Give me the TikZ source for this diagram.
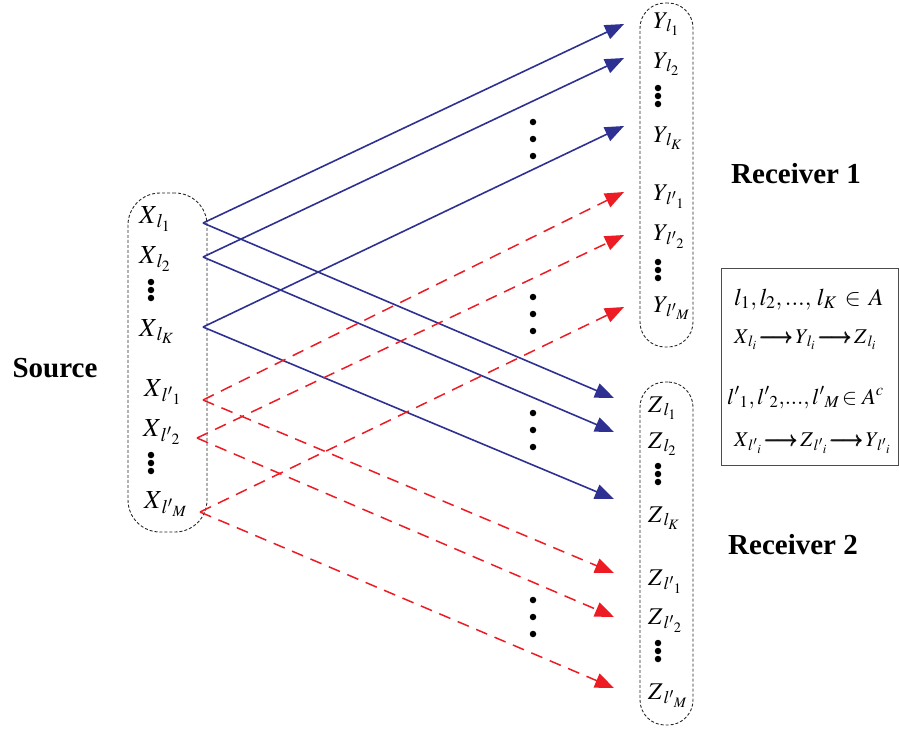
\documentclass[tikz,border=0pt]{standalone}
\usepackage{mathptmx}
\usepackage{amsmath}
\usepackage{fontspec}
\setmainfont{Liberation Serif}
\usetikzlibrary{arrows.meta}
\definecolor{navyline}{RGB}{46,49,146}
\definecolor{redline}{RGB}{237,28,36}
\newcommand{\barr}{\mathrel{\pmb{\longrightarrow}}}
\begin{document}
\begin{tikzpicture}[x=1pt,y=-1pt,
  lab/.style={inner sep=0pt,anchor=base west,font=\fontsize{24}{26}\selectfont},
  xlab/.style={inner sep=0pt,anchor=base west,font=\fontsize{26}{28}\selectfont},
  title/.style={inner sep=0pt,font=\fontsize{29}{31}\selectfont\bfseries},
  grp/.style={draw=black!85,line width=0.9pt,dash pattern=on 3pt off 2pt,inner sep=0pt},
  dotm/.style={circle,fill=black,inner sep=0pt,minimum size=6.5pt},
  barrow/.style={draw=navyline,line width=1.6pt,-{Triangle[length=19pt,width=15pt]}},
  rarrow/.style={draw=redline,line width=1.5pt,dash pattern=on 12pt off 8pt,-{Triangle[length=19pt,width=15pt]}},
  legendbox/.style={draw=black!70,line width=0.9pt,inner sep=0pt},
  legbig/.style={inner sep=0pt,anchor=base west,font=\fontsize{24}{26}\selectfont},
  legmid/.style={inner sep=0pt,anchor=base west,font=\fontsize{22.5}{24}\selectfont},
  legsmall/.style={inner sep=0pt,anchor=base west,font=\fontsize{21}{23}\selectfont}
]
\useasboundingbox (0,0) rectangle (899,729);

% group boxes
\node[grp,rounded corners=32pt,minimum width=79pt,minimum height=339pt] (srcbox) at (167.5,362.5) {};
\node[grp,rounded corners=25pt,minimum width=53pt,minimum height=344pt] (ybox) at (666.5,175) {};
\node[grp,rounded corners=25pt,minimum width=53pt,minimum height=343pt] (zbox) at (666.5,553.5) {};

% titles
\node[title] (source) at (55,368) {Source};
\node[title] (rec1) at (796,174) {Receiver 1};
\node[title] (rec2) at (793,545) {Receiver 2};

% X labels
\node[xlab] (x1) at (139,223) {$X_{\,l_{1}}$};
\node[xlab] (x2) at (139,263) {$X_{\,l_{2}}$};
\node[xlab] (xK) at (139,336) {$X_{\,l_{K}}$};
\node[xlab] (xp1) at (144,396) {$X_{\,{l'}_{1}}$};
\node[xlab] (xp2) at (143,436) {$X_{\,{l'}_{2}}$};
\node[xlab] (xpM) at (144,508) {$X_{\,{l'}_{M}}$};
\node[dotm] (xd1) at (151,282) {};
\node[dotm] (xd2) at (151,290) {};
\node[dotm] (xd3) at (151,298) {};
\node[dotm] (xd4) at (151,455) {};
\node[dotm] (xd5) at (151,463) {};
\node[dotm] (xd6) at (151,471) {};

% Y labels
\node[lab] (y1) at (653,28) {$Y_{\,l_{1}}$};
\node[lab] (y2) at (653,68) {$Y_{\,l_{2}}$};
\node[lab] (yK) at (653,142) {$Y_{\,l_{K}}$};
\node[lab] (yp1) at (653,200) {$Y_{\,{l'}_{1}}$};
\node[lab] (yp2) at (653,240) {$Y_{\,{l'}_{2}}$};
\node[lab] (ypM) at (653,312) {$Y_{\,{l'}_{M}}$};
\node[dotm] (yd1) at (658,88) {};
\node[dotm] (yd2) at (658,96) {};
\node[dotm] (yd3) at (658,104) {};
\node[dotm] (yd4) at (658,262) {};
\node[dotm] (yd5) at (658,270) {};
\node[dotm] (yd6) at (658,278) {};

% Z labels
\node[lab] (z1) at (648,412) {$Z_{\,l_{1}}$};
\node[lab] (z2) at (648,448) {$Z_{\,l_{2}}$};
\node[lab] (zK) at (648,522) {$Z_{\,l_{K}}$};
\node[lab] (zp1) at (648,585) {$Z_{\,{l'}_{1}}$};
\node[lab] (zp2) at (648,624) {$Z_{\,{l'}_{2}}$};
\node[lab] (zpM) at (648,699) {$Z_{\,{l'}_{M}}$};
\node[dotm] (zd1) at (658,643) {};
\node[dotm] (zd2) at (658,651) {};
\node[dotm] (zd3) at (658,659) {};
\node[dotm] (zd4) at (658,466) {};
\node[dotm] (zd5) at (658,474) {};
\node[dotm] (zd6) at (658,482) {};

% middle dots
\foreach \yy [count=\i] in {122,139,156,297,314,331,413,430,447,600,617,634}
  \node[dotm] (md\i) at (533,\yy) {};

% connector end points
\coordinate (sx1) at (203,223);
\coordinate (sx2) at (203,257);
\coordinate (sxK) at (203,327);
\coordinate (sxp1) at (203,400);
\coordinate (sxp2) at (197,438);
\coordinate (sxpM) at (200,512);
\coordinate (ey1) at (624,24);
\coordinate (ey2) at (624,58);
\coordinate (eyK) at (624,126);
\coordinate (eyp1) at (624,192);
\coordinate (eyp2) at (624,235);
\coordinate (eypM) at (624,307);
\coordinate (ez1) at (614,398);
\coordinate (ez2) at (614,432);
\coordinate (ezK) at (614,499);
\coordinate (ezp1) at (614,573);
\coordinate (ezp2) at (614,617);
\coordinate (ezpM) at (614,688);

% blue connectors
\draw[barrow] (sx1) -- (ey1);
\draw[barrow] (sx2) -- (ey2);
\draw[barrow] (sxK) -- (eyK);
\draw[barrow] (sx1) -- (ez1);
\draw[barrow] (sx2) -- (ez2);
\draw[barrow] (sxK) -- (ezK);

% red connectors
\draw[rarrow] (sxp1) -- (eyp1);
\draw[rarrow] (sxp2) -- (eyp2);
\draw[rarrow] (sxpM) -- (eypM);
\draw[rarrow] (sxp1) -- (ezp1);
\draw[rarrow] (sxp2) -- (ezp2);
\draw[rarrow] (sxpM) -- (ezpM);

% legend
\node[legendbox,minimum width=177pt,minimum height=197pt] (legend) at (809.5,366.5) {};
\node[legbig] (lg1) at (734,305) {$l_1, l_2,..., \,l_K \,\in\, A$};
\node[legsmall] (lg2) at (734,343) {$X_{\,l_i}\!\barr\! Y_{\,l_i}\!\barr\! Z_{\,l_i}$};
\node[legmid] (lg3) at (727,404) {${l'}_1, {l'}_2,\!..., {l'}_M\!\in A^c$};
\node[legsmall] (lg4) at (734,446) {$X_{\,{l'}_i}\!\barr\! Z_{\,{l'}_i}\!\barr\! Y_{\,{l'}_i}$};
\end{tikzpicture}
\end{document}
